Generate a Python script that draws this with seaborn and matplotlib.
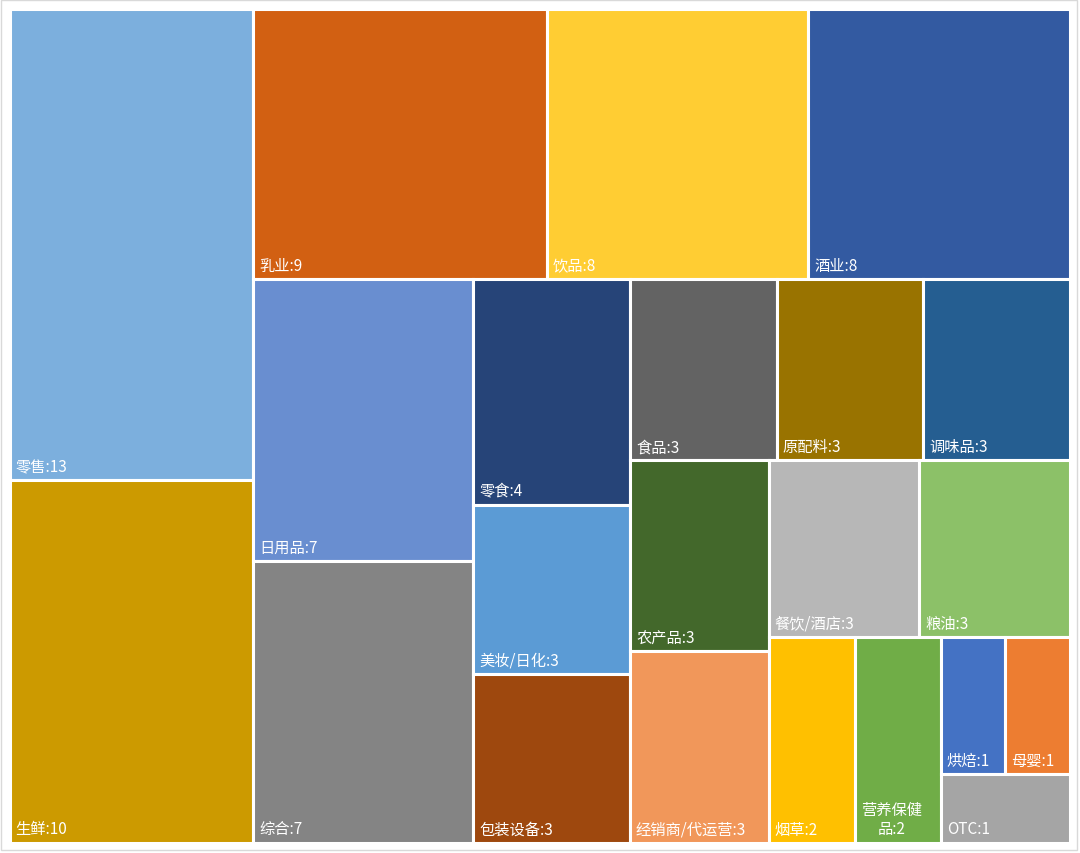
import numpy as np
import pandas as pd
import matplotlib
matplotlib.use("Agg")
import matplotlib.pyplot as plt
import seaborn as sns

# ------------- Data -------------
categories = ["零售", "生鲜", "乳业", "饮品", "酒业", "日用品", "综合", "零食",
              "美妆/日化", "包装设备", "食品", "原配料", "调味品", "农产品",
              "经销商/代运营", "餐饮/酒店", "粮油", "烟草", "营养保健品",
              "烘焙", "母婴", "OTC"]
counts = [13, 10, 9, 8, 8, 7, 7, 4, 3, 3, 3, 3, 3, 3, 3, 3, 3, 2, 2, 1, 1, 1]
colors = ["#7CAFDD", "#CC9A00", "#D26012", "#FFCD33", "#335AA1", "#698ED0",
          "#848484", "#264478", "#5B9BD5", "#9E480E", "#636363", "#997300",
          "#255E91", "#43682B", "#F1975A", "#B7B7B7", "#8CC168", "#FFC000",
          "#70AD47", "#4472C4", "#ED7D31", "#A5A5A5"]

df = pd.DataFrame({"name": categories, "value": counts, "color": colors})

# ------------- Squarified layout (slight preference for tall cells) -------------
BIAS = 1.27


def worst(row, length, column):
    s = sum(row)
    thick = s / length
    res = 0
    for v in row:
        along = v / thick
        r = thick / along if column else along / thick   # width / height
        r *= BIAS
        res = max(res, r, 1 / r)
    return res


def squarify(values, x, y, w, h):
    total = sum(values)
    areas = [v * w * h / total for v in values]
    rects = []
    i = 0
    while i < len(areas):
        column = w >= h
        length = h if column else w
        row = [areas[i]]
        j = i + 1
        while j < len(areas) and worst(row + [areas[j]], length, column) <= worst(row, length, column):
            row.append(areas[j])
            j += 1
        thick = sum(row) / length
        pos = y if column else x
        for a in row:
            along = a / thick
            if column:
                rects.append((x, pos, thick, along))
            else:
                rects.append((pos, y, along, thick))
            pos += along
        if column:
            x += thick
            w -= thick
        else:
            y += thick
            h -= thick
        i = j
    return rects


W, H = 1080, 854
rects = squarify(df["value"].tolist(), 9.5, 9.5, 1060, 834)
df["x"] = [r[0] for r in rects]
df["y"] = [r[1] for r in rects]
df["w"] = [r[2] for r in rects]
df["h"] = [r[3] for r in rects]

# ------------- Plot -------------
sns.set_theme(style="white")
plt.rcParams['font.family'] = ['Noto Sans CJK SC', 'DejaVu Sans']

fig = plt.figure(figsize=(W / 100, H / 100), dpi=100)
ax = fig.add_axes([0, 0, 1, 1])
ax.set_xlim(0, W)
ax.set_ylim(H, 0)
ax.axis("off")

ax.bar(df["x"], df["h"], width=df["w"], bottom=df["y"], align="edge",
       color=df["color"], edgecolor="white", linewidth=2.2)

# outer chart frame
ax.add_patch(plt.Rectangle((1, 1), W - 4, H - 4, fill=False, edgecolor="#D9D9D9", lw=1))

fig.canvas.draw()
renderer = fig.canvas.get_renderer()
for _, r in df.iterrows():
    label = f"{r['name']}:{r['value']}"
    t = ax.text(r["x"] + 6, r["y"] + r["h"] - 5, label, color="white", fontsize=11,
                ha="left", va="bottom", multialignment="center")
    if t.get_window_extent(renderer).width > r["w"] - 10:
        # wrap after the characters that fit
        for k in range(len(label) - 1, 0, -1):
            t.set_text(label[:k])
            if t.get_window_extent(renderer).width <= r["w"] - 10:
                break
        t.set_text(label[:k] + "\n" + label[k:])

plt.savefig("out.png", dpi=100)
